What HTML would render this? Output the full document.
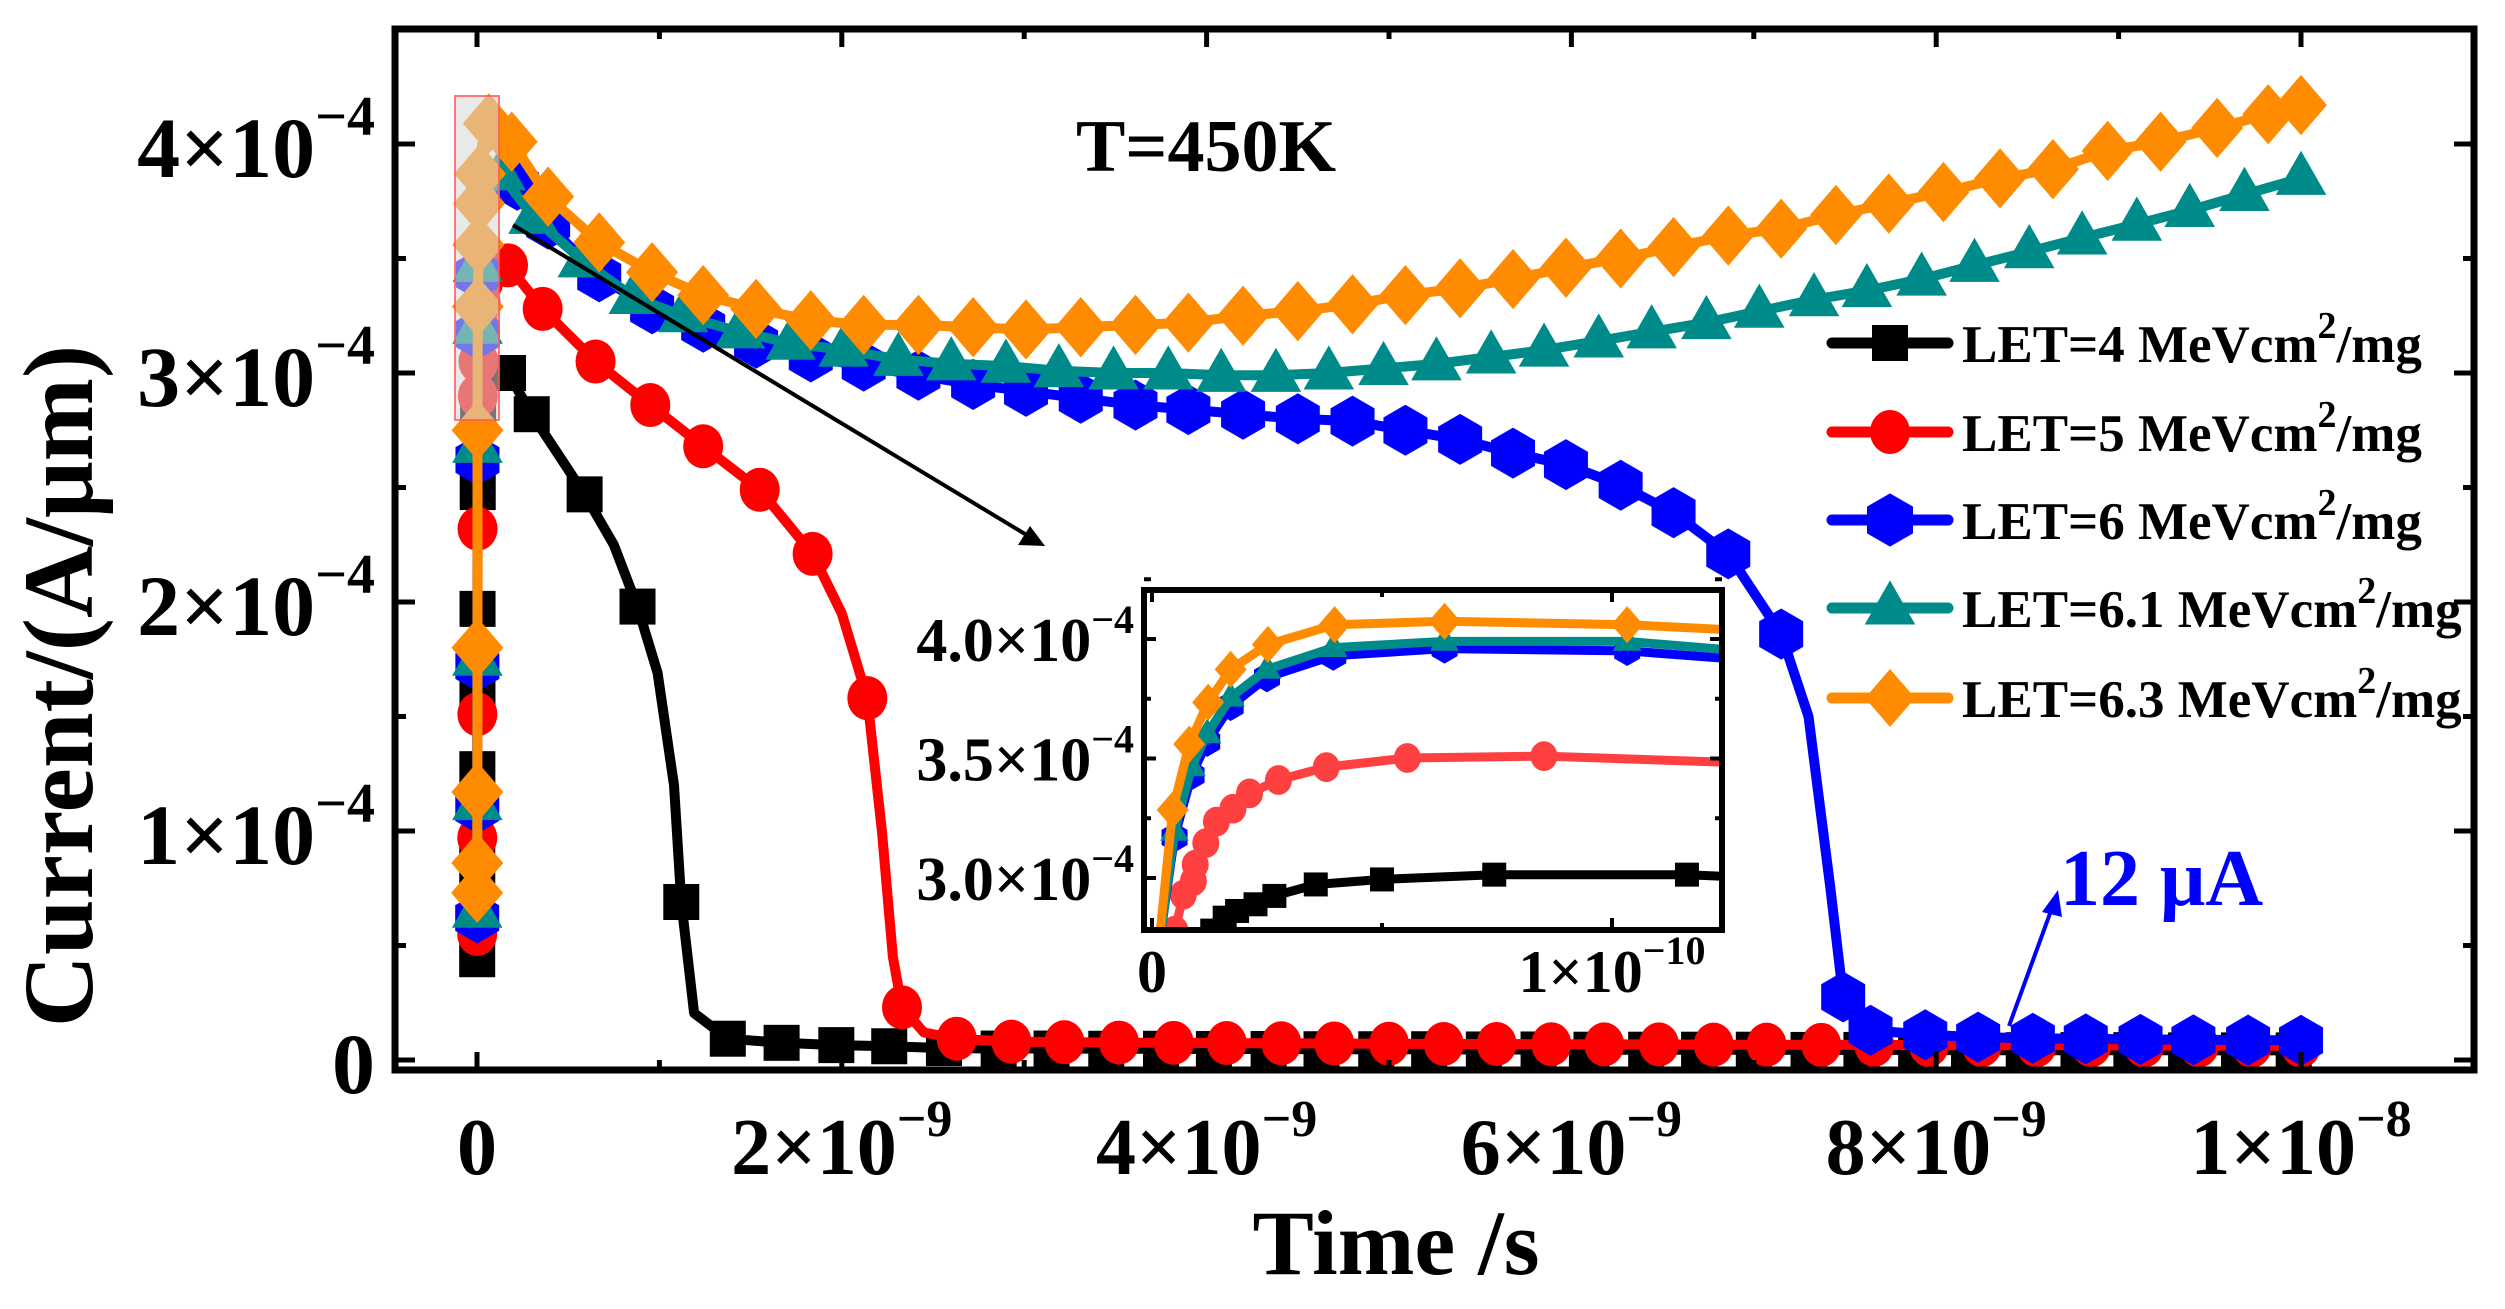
<!DOCTYPE html>
<html><head><meta charset="utf-8">
<style>
html,body{margin:0;padding:0;background:#fff;}
svg{display:block;font-family:"Liberation Serif","DejaVu Serif",serif;font-weight:bold;}
</style></head>
<body>
<svg id="chart" xmlns="http://www.w3.org/2000/svg" width="2505" height="1309" viewBox="0 0 2505 1309">
<defs>
<clipPath id="mainClip"><rect x="398" y="32" width="2073" height="1035"/></clipPath>
<clipPath id="insetClip"><rect x="1147" y="593" width="572" height="334"/></clipPath>
</defs>
<rect x="0" y="0" width="2505" height="1309" fill="#fff"/>
<g id="mainSeries" clip-path="url(#mainClip)"></g>
<rect x="455" y="96" width="44" height="324" fill="rgba(215,215,215,0.55)" stroke="rgba(255,90,90,0.8)" stroke-width="2"/>
<g id="mainAxes"></g>
<text x="1206" y="171" font-size="74" text-anchor="middle">T=450K</text>
<g>
<line x1="513" y1="225" x2="1030" y2="537" stroke="#000" stroke-width="4"/>
<polygon points="1045,546 1018,545 1030,526" fill="#000"/>
</g>
<g id="inset"></g>
<g>
<line x1="2009" y1="1026" x2="2052" y2="908" stroke="#0000ff" stroke-width="4"/>
<polygon points="2058,890 2042,912 2062,917" fill="#0000ff"/>
<text x="2060" y="905" font-size="80" fill="#0000ff">12 μA</text>
</g>
<g id="legend"></g>
<text x="1396" y="1274" font-size="92" text-anchor="middle">Time /s</text>
<text transform="translate(92,686) rotate(-90)" font-size="100" text-anchor="middle">Current/(A/μm)</text>
</svg>
<script>
// ---------- MAIN CHART DATA (time in ns, current in 1e-4 A/um) ----------
const blackT=[0.001,0.0015,0.002,0.0025,0.003,0.004,0.006,0.01,0.02,0.04,0.065,0.17,0.30,0.59,0.75,0.88,0.99,1.08,1.12,1.19,1.375,1.67,1.97,2.26,2.56,2.86,3.15,3.45,3.75,4.04,4.34,4.63,4.93,5.22,5.52,5.82,6.11,6.41,6.7,7.0,7.3,7.59,7.89,8.18,8.48,8.78,9.07,9.37,9.66,9.96];
const blackV=[0.44,0.85,1.27,1.6,1.97,2.48,2.86,2.95,3.0,3.0,3.0,3.0,2.82,2.47,2.25,1.98,1.69,1.2,0.69,0.205,0.093,0.075,0.065,0.06,0.052,0.05,0.05,0.049,0.049,0.048,0.048,0.047,0.047,0.047,0.046,0.046,0.045,0.045,0.045,0.045,0.044,0.044,0.044,0.043,0.043,0.043,0.043,0.042,0.042,0.042];
const blackM=[1,1,1,1,1,1,1,0,0,0,0,1,1,1,0,1,0,0,1,0,1,1,1,1,1,1,1,1,1,1,1,1,1,1,1,1,1,1,1,1,1,1,1,1,1,1,1,1,1,1];
const redT=[0.001,0.0015,0.002,0.003,0.005,0.008,0.012,0.02,0.035,0.06,0.17,0.36,0.65,0.95,1.24,1.55,1.84,2.0,2.14,2.22,2.28,2.33,2.45,2.63,2.93,3.22,3.52,3.82,4.11,4.41,4.7,5.0,5.3,5.59,5.89,6.18,6.48,6.78,7.07,7.37,7.66,7.96,8.25,8.55,8.85,9.14,9.44,9.73,10.0];
const redV=[0.55,0.97,1.51,2.32,2.9,3.05,3.2,3.3,3.4,3.5,3.47,3.28,3.05,2.86,2.68,2.49,2.21,1.95,1.58,1.0,0.45,0.23,0.12,0.093,0.08,0.078,0.076,0.075,0.074,0.073,0.072,0.071,0.07,0.07,0.069,0.068,0.068,0.067,0.067,0.066,0.066,0.065,0.065,0.064,0.064,0.063,0.063,0.062,0.062];
const redM=[1,1,1,1,1,1,1,1,1,0,1,1,1,1,1,1,1,0,1,0,0,1,0,1,1,1,1,1,1,1,1,1,1,1,1,1,1,1,1,1,1,1,1,1,1,1,1,1,1];
const blueT=[0.001,0.0015,0.002,0.0025,0.003,0.0045,0.008,0.012,0.017,0.025,0.04,0.065,0.22,0.39,0.67,0.96,1.24,1.53,1.83,2.12,2.42,2.72,3.01,3.31,3.61,3.90,4.2,4.5,4.80,5.09,5.39,5.68,5.97,6.27,6.56,6.86,7.15,7.3,7.42,7.49,7.64,7.94,8.23,8.53,8.82,9.12,9.41,9.71,10.0];
const blueV=[0.62,1.1,1.72,2.62,3.17,3.43,3.57,3.72,3.8,3.85,3.87,3.88,3.82,3.65,3.42,3.28,3.20,3.13,3.07,3.03,2.99,2.95,2.92,2.89,2.86,2.84,2.82,2.80,2.79,2.75,2.71,2.65,2.60,2.51,2.39,2.21,1.86,1.5,0.75,0.275,0.13,0.11,0.10,0.095,0.092,0.09,0.088,0.087,0.086];
const blueM=[1,1,1,1,1,1,0,0,0,0,0,0,1,1,1,1,1,1,1,1,1,1,1,1,1,1,1,1,1,1,1,1,1,1,1,1,1,0,0,1,1,1,1,1,1,1,1,1,1];
const tealT=[0.001,0.0015,0.002,0.0025,0.003,0.0045,0.008,0.012,0.017,0.025,0.04,0.065,0.13,0.31,0.58,0.86,1.13,1.44,1.72,2.01,2.31,2.6,2.9,3.19,3.49,3.79,4.08,4.38,4.67,4.97,5.26,5.56,5.85,6.15,6.44,6.74,7.03,7.33,7.62,7.92,8.21,8.51,8.8,9.1,9.39,9.69,10.0];
const tealV=[0.65,1.12,1.75,2.68,3.2,3.47,3.6,3.75,3.83,3.88,3.9,3.9,3.87,3.68,3.49,3.33,3.25,3.18,3.13,3.10,3.06,3.04,3.03,3.01,3.00,3.00,2.99,2.99,3.0,3.02,3.04,3.07,3.10,3.14,3.18,3.22,3.27,3.32,3.36,3.41,3.47,3.53,3.59,3.65,3.71,3.78,3.85];
const tealM=[1,1,1,1,1,1,0,0,0,0,0,0,1,1,1,1,1,1,1,1,1,1,1,1,1,1,1,1,1,1,1,1,1,1,1,1,1,1,1,1,1,1,1,1,1,1,1];
const orangeT=[0.001,0.0015,0.002,0.0025,0.003,0.0045,0.008,0.012,0.017,0.025,0.04,0.065,0.19,0.39,0.67,0.96,1.24,1.53,1.83,2.12,2.42,2.72,3.01,3.31,3.61,3.90,4.2,4.5,4.80,5.09,5.39,5.68,5.97,6.27,6.56,6.86,7.15,7.45,7.74,8.04,8.35,8.64,8.94,9.23,9.54,9.82,10.0];
const orangeV=[0.73,0.86,1.17,1.80,2.75,3.29,3.56,3.74,3.87,3.98,4.06,4.09,4.01,3.77,3.57,3.44,3.34,3.28,3.23,3.21,3.21,3.20,3.19,3.20,3.21,3.22,3.25,3.27,3.30,3.34,3.37,3.41,3.46,3.50,3.55,3.60,3.63,3.69,3.74,3.79,3.85,3.89,3.97,4.01,4.07,4.13,4.17];
const orangeM=[1,1,1,1,1,1,1,1,1,0,0,1,1,1,1,1,1,1,1,1,1,1,1,1,1,1,1,1,1,1,1,1,1,1,1,1,1,1,1,1,1,1,1,1,1,1,1];
const xTickVals=[0,2,4,6,8,10];
const xTickBase=["0","2×10","4×10","6×10","8×10","1×10"];
const xTickExp=["","−9","−9","−9","−9","−8"];
const yTickVals=[0,1,2,3,4];
const yTickBase=["0","1×10","2×10","3×10","4×10"];
const yTickExp=["","−4","−4","−4","−4"];
// ---------- INSET DATA (time in 1e-11 s, current in 1e-4 A/um) ----------
const insBlackT=[1.0,1.31,1.58,1.85,2.25,2.66,3.56,5.0,7.44,11.63,12.4];
const insBlackV=[2.7,2.78,2.834,2.862,2.89,2.925,2.973,2.994,3.014,3.014,3.007];
const insBlackM=[0,1,1,1,1,1,1,1,1,1,0];
const insRedT=[0.3,0.5,0.68,0.9,0.94,1.17,1.40,1.76,2.12,2.75,3.79,5.55,8.52,12.4];
const insRedV=[2.0,2.78,2.93,2.987,3.056,3.146,3.236,3.29,3.354,3.41,3.464,3.502,3.51,3.485];
const insRedM=[0,1,1,1,1,1,1,1,1,1,1,1,1,0];
const insBlueT=[0,0.2,0.49,0.86,1.2,1.71,2.5,3.94,6.36,10.33,12.4];
const insBlueV=[2.0,2.78,3.17,3.43,3.57,3.72,3.84,3.93,3.96,3.95,3.92];
const insTealT=[0,0.2,0.49,0.86,1.2,1.71,2.5,3.94,6.36,10.33,12.4];
const insTealV=[2.0,2.78,3.195,3.465,3.603,3.756,3.873,3.964,3.99,3.99,3.957];
const insOrangeT=[0,0.18,0.45,0.81,1.22,1.71,2.52,3.97,6.36,10.33,12.4];
const insOrangeV=[2.0,2.78,3.285,3.56,3.735,3.873,3.977,4.06,4.074,4.06,4.04];
const insCommonM=[0,0,1,1,1,1,1,1,1,1,0];
const insYTickVals=[3.0,3.5,4.0];
const insYTickLabels=["3.0×10","3.5×10","4.0×10"];
const insXTickVals=[0,10];

const NS="http://www.w3.org/2000/svg";
function mk(tag,attrs,parent){const e=document.createElementNS(NS,tag);for(const k in attrs)e.setAttribute(k,attrs[k]);if(parent)parent.appendChild(e);return e;}
// main axis functions
const xS=t=>477+t*182.4;
const yS=v=>1060-v*229;
// inset axis functions
const ixS=t=>1152+t*46;
const iyS=v=>878-(v-3.0)*239;

function marker(g,shape,x,y,s,color){
  let el;
  if(shape==='square'){el=mk('rect',{x:x-s/2,y:y-s/2,width:s,height:s,fill:color},g);}
  else if(shape==='circle'){el=mk('ellipse',{cx:x,cy:y,rx:s*0.5,ry:s*0.55,fill:color},g);}
  else if(shape==='hexagon'){const w=s*0.5,h=s*0.58;el=mk('polygon',{points:`${x},${y-h} ${x+w},${y-h/2} ${x+w},${y+h/2} ${x},${y+h} ${x-w},${y+h/2} ${x-w},${y-h/2}`,fill:color},g);}
  else if(shape==='triangle'){const w=s*0.55,h=s*0.6;el=mk('polygon',{points:`${x},${y-h} ${x+w},${y+h*0.6} ${x-w},${y+h*0.6}`,fill:color},g);}
  else {const w=s*0.5,h=s*0.58;el=mk('polygon',{points:`${x},${y-h} ${x+w},${y} ${x},${y+h} ${x-w},${y}`,fill:color},g);}
  return el;
}
function drawSeries(parent,name,T,V,M,color,shape,size,lw,xf,yf){
  const g=mk('g',{},parent);
  
  
  const pts=T.map((t,i)=>xf(t).toFixed(1)+','+yf(V[i]).toFixed(1)).join(' ');
  const line=mk('polyline',{points:pts,fill:'none',stroke:color,'stroke-width':lw,'stroke-linejoin':'round','stroke-linecap':'round'},g);
  
  
  T.forEach((t,i)=>{if(M[i]){const m=marker(g,shape,xf(t),yf(V[i]),size,color);
    
    }});
}
const mainG=document.getElementById('mainSeries');
drawSeries(mainG,'series-let-4',blackT,blackV,blackM,'#000000','square',36,10,xS,yS);
drawSeries(mainG,'series-let-5',redT,redV,redM,'#ff0000','circle',40,10,xS,yS);
drawSeries(mainG,'series-let-6',blueT,blueV,blueM,'#0000ff','hexagon',44,10,xS,yS);
drawSeries(mainG,'series-let-6-1',tealT,tealV,tealM,'#008b8b','triangle',46,10,xS,yS);
drawSeries(mainG,'series-let-6-3',orangeT,orangeV,orangeM,'#ff8c00','diamond',52,10,xS,yS);

// main axes
const ax=document.getElementById('mainAxes');
const L=395,R=2474,TOP=29,B=1070;
const frame=mk('rect',{x:L,y:TOP,width:R-L,height:B-TOP,fill:'none',stroke:'#000','stroke-width':7},ax);


xTickVals.forEach((v,i)=>{
  const x=xS(v);
  mk('line',{x1:x,y1:B,x2:x,y2:B-18,stroke:'#000','stroke-width':5},ax);
  mk('line',{x1:x,y1:TOP,x2:x,y2:TOP+18,stroke:'#000','stroke-width':5},ax);
  if(i<xTickVals.length-1){const xm=xS(v+1);
    mk('line',{x1:xm,y1:B,x2:xm,y2:B-10,stroke:'#000','stroke-width':5},ax);
    mk('line',{x1:xm,y1:TOP,x2:xm,y2:TOP+10,stroke:'#000','stroke-width':5},ax);}
  const t=mk('text',{x:x,y:1174,'font-size':80,'text-anchor':'middle'},ax);
  
  
  t.appendChild(document.createTextNode(xTickBase[i]));
  if(xTickExp[i]){const s=mk('tspan',{dy:-38,'font-size':52},t);s.textContent=xTickExp[i];}
});
yTickVals.forEach((v,i)=>{
  const y=yS(v);
  mk('line',{x1:L,y1:y,x2:L+20,y2:y,stroke:'#000','stroke-width':5},ax);
  mk('line',{x1:R,y1:y,x2:R-20,y2:y,stroke:'#000','stroke-width':5},ax);
  if(i<yTickVals.length-1){const ym=yS(v+0.5);
    mk('line',{x1:L,y1:ym,x2:L+11,y2:ym,stroke:'#000','stroke-width':5},ax);
    mk('line',{x1:R,y1:ym,x2:R-11,y2:ym,stroke:'#000','stroke-width':5},ax);}
  const t=mk('text',{x:375,y:y+33,'font-size':86,'text-anchor':'end'},ax);
  
  
  t.appendChild(document.createTextNode(yTickBase[i]));
  if(yTickExp[i]){const s=mk('tspan',{dy:-42,'font-size':56},t);s.textContent=yTickExp[i];}
});

// inset
const ins=document.getElementById('inset');
const IL=1144,IR=1722,IT=590,IB=930;
mk('rect',{x:IL,y:IT,width:IR-IL,height:IB-IT,fill:'#fff'},ins);
const insG=mk('g',{'clip-path':'url(#insetClip)'},ins);
drawSeries(insG,'inset-series-let-4',insBlackT,insBlackV,insBlackM,'#000000','square',24,9,ixS,iyS);
drawSeries(insG,'inset-series-let-5',insRedT,insRedV,insRedM,'#ff4040','circle',27,9,ixS,iyS);
drawSeries(insG,'inset-series-let-6',insBlueT,insBlueV,insCommonM,'#0000ff','hexagon',26,9,ixS,iyS);
drawSeries(insG,'inset-series-let-6-1',insTealT,insTealV,insCommonM,'#008b8b','triangle',26,9,ixS,iyS);
drawSeries(insG,'inset-series-let-6-3',insOrangeT,insOrangeV,insCommonM,'#ff8c00','diamond',32,9,ixS,iyS);
const iframe=mk('rect',{x:IL,y:IT,width:IR-IL,height:IB-IT,fill:'none',stroke:'#000','stroke-width':6},ins);


insYTickVals.forEach((v,i)=>{
  const y=iyS(v);
  mk('line',{x1:IL,y1:y,x2:IL+12,y2:y,stroke:'#000','stroke-width':4},ins);
  mk('line',{x1:IR,y1:y,x2:IR-12,y2:y,stroke:'#000','stroke-width':4},ins);
  const ym=iyS(v+0.25);
  mk('line',{x1:IL,y1:ym,x2:IL+7,y2:ym,stroke:'#000','stroke-width':4},ins);
  mk('line',{x1:IR,y1:ym,x2:IR-7,y2:ym,stroke:'#000','stroke-width':4},ins);
  const t=mk('text',{x:1134,y:y+22,'font-size':62,'text-anchor':'end'},ins);
  
  
  t.appendChild(document.createTextNode(insYTickLabels[i]));
  const s=mk('tspan',{dy:-28,'font-size':40},t);s.textContent='−4';
});
insXTickVals.forEach((v,i)=>{
  const x=ixS(v);
  mk('line',{x1:x,y1:IB,x2:x,y2:IB-12,stroke:'#000','stroke-width':4},ins);
  mk('line',{x1:x,y1:IT,x2:x,y2:IT+12,stroke:'#000','stroke-width':4},ins);
  const xm=ixS(v+5);
  if(xm<IR){mk('line',{x1:xm,y1:IB,x2:xm,y2:IB-7,stroke:'#000','stroke-width':4},ins);
  mk('line',{x1:xm,y1:IT,x2:xm,y2:IT+7,stroke:'#000','stroke-width':4},ins);}
  const t=mk('text',{x:x,y:992,'font-size':60,'text-anchor':'middle'},ins);
  
  
  if(v===0){t.textContent='0';}
  else{t.appendChild(document.createTextNode('1×10'));const s=mk('tspan',{dy:-28,'font-size':40},t);s.textContent='−10';}
});

// legend
const leg=document.getElementById('legend');
const legLabels=['LET=4 MeVcm','LET=5 MeVcm','LET=6 MeVcm','LET=6.1 MeVcm','LET=6.3 MeVcm'];
const legColors=['#000000','#ff0000','#0000ff','#008b8b','#ff8c00'];
const legShapes=['square','circle','hexagon','triangle','diamond'];
const legSizes=[36,40,46,46,50];
const legY=[343,432,520,608,698];
legLabels.forEach((lab,i)=>{
  const g=mk('g',{},leg);
  
  
  mk('line',{x1:1832,y1:legY[i],x2:1948,y2:legY[i],stroke:legColors[i],'stroke-width':11,'stroke-linecap':'round'},g);
  marker(g,legShapes[i],1890,legY[i],legSizes[i],legColors[i]);
  const t=mk('text',{x:1962,y:legY[i]+19,'font-size':53},g);
  t.appendChild(document.createTextNode(lab));
  const s=mk('tspan',{dy:-24,'font-size':38},t);s.textContent='2';
  const s2=mk('tspan',{dy:24,'font-size':53},t);s2.textContent='/mg';
});
</script>
</body></html>
